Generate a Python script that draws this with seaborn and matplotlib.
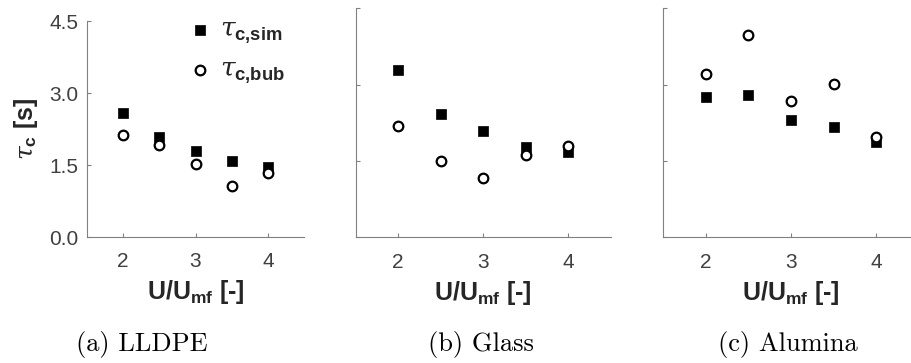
import matplotlib.pyplot as plt
import seaborn as sns
from matplotlib.ticker import FormatStrFormatter

sns.set_style('white')
plt.rcParams['font.family'] = ['Liberation Sans', 'DejaVu Sans']
plt.rcParams['mathtext.fontset'] = 'custom'
plt.rcParams['mathtext.rm'] = 'Liberation Sans'
plt.rcParams['mathtext.bf'] = 'Liberation Sans:bold'
plt.rcParams['mathtext.it'] = 'DejaVu Serif:italic'

# superficial velocity ratio U/Umf
u = [2, 2.5, 3, 3.5, 4]

# characteristic time tau_c [s]
lldpe_sim = [2.58, 2.09, 1.80, 1.59, 1.46]
lldpe_bub = [2.13, 1.92, 1.53, 1.06, 1.33]
glass_sim = [3.29, 2.42, 2.08, 1.78, 1.68]
glass_bub = [2.18, 1.50, 1.17, 1.61, 1.79]
alumina_sim = [2.76, 2.79, 2.31, 2.16, 1.88]
alumina_bub = [3.20, 3.98, 2.67, 3.01, 1.98]

captions = ['(a) LLDPE', '(b) Glass', '(c) Alumina']
sims = [lldpe_sim, glass_sim, alumina_sim]
bubs = [lldpe_bub, glass_bub, alumina_bub]

fig = plt.figure(figsize=(9.11, 3.63), dpi=100)

positions = [
    [0.0955, 0.3471, 0.2382, 0.5950],
    [0.3904, 0.3463, 0.2799, 0.6309],
    [0.7278, 0.3463, 0.2810, 0.6309],
]
caption_x = [0.156, 0.528, 0.865]

spine_col = '#808080'
text_col = '#404040'

for i in range(3):
    ax = fig.add_axes(positions[i])
    sns.scatterplot(x=u, y=sims[i], marker='s', s=60, color='black',
                    edgecolor='black', linewidth=0.5, ax=ax, zorder=3,
                    label=r'$\tau_{\mathbf{c{,}sim}}$')
    sns.scatterplot(x=u, y=bubs[i], marker='o', s=48, color='white',
                    edgecolor='black', linewidth=1.6, ax=ax, zorder=4,
                    label=r'$\tau_{\mathbf{c{,}bub}}$')

    ax.set_xlim(1.5, 4.5)
    ax.set_ylim(0, 4.5)
    ax.set_xticks([2, 3, 4])
    ax.set_yticks([0, 1.5, 3.0, 4.5])
    ax.yaxis.set_major_formatter(FormatStrFormatter('%.1f'))
    ax.tick_params(direction='in', length=3, width=0.8, color=spine_col,
                   labelsize=15, labelcolor=text_col, bottom=True, left=True)
    ax.tick_params(axis='x', pad=11)
    ax.tick_params(axis='y', pad=6)
    sns.despine(ax=ax)
    for side in ['left', 'bottom']:
        ax.spines[side].set_color(spine_col)
        ax.spines[side].set_linewidth(0.8)

    ax.set_xlabel(r'$\mathbf{U/U_{mf}}$ [-]', fontsize=18, fontweight='bold',
                  color='#262626', labelpad=5)

    if i == 0:
        ax.set_ylabel(r'$\tau_{\mathbf{c}}$ [s]', fontsize=18, fontweight='bold',
                      color='#262626', labelpad=7)
        ax.legend(loc='upper left', bbox_to_anchor=(0.46, 1.015), frameon=False,
                  fontsize=19, handlelength=1.0, handletextpad=0.25,
                  borderpad=0, borderaxespad=0, labelspacing=0.45)
    else:
        ax.set_ylabel('')
        ax.tick_params(axis='y', labelleft=False)
        if ax.get_legend() is not None:
            ax.get_legend().remove()

    fig.text(caption_x[i], 1 - 344 / 363, captions[i], ha='center', va='center',
             family='cmr10', fontsize=19, color='black')

fig.savefig('out.png', dpi=100)
